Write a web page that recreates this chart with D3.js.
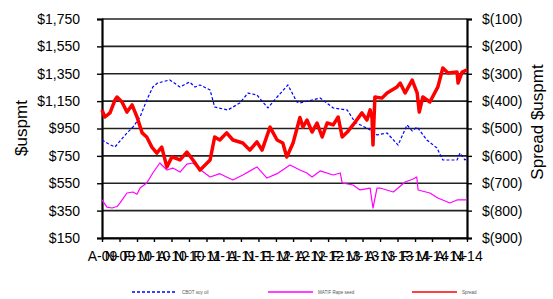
<!DOCTYPE html>
<html>
<head>
<meta charset="utf-8">
<script src="https://cdn.jsdelivr.net/npm/d3@7/dist/d3.min.js"></script>
<style>
  body { margin: 0; background: #fff; }
  svg { display: block; font-family: "Liberation Sans", Arial, sans-serif; }
</style>
</head>
<body>
<svg id="chart" width="553" height="299"></svg>
<script>
'use strict';

// ---- data ----
var soyDates = ['2009-08-01','2009-09-01','2009-10-08','2009-12-10','2010-01-11','2010-02-17','2010-03-24','2010-04-25',
  '2010-05-20','2010-07-23','2010-09-15','2010-11-04','2010-12-03','2010-12-29','2011-02-20','2011-03-16','2011-05-24',
  '2011-07-26','2011-09-07','2011-10-24','2011-12-21','2012-02-07','2012-04-04','2012-05-21','2012-06-06','2012-09-20',
  '2012-11-28','2013-02-10','2013-03-22','2013-06-10','2013-07-16','2013-09-07','2013-11-04','2013-12-21','2014-01-17',
  '2014-02-12','2014-04-04','2014-05-27','2014-06-27','2014-09-10','2014-09-25','2014-10-21','2014-11-01'];
var soyValues = [866,840,815,917,961,1034,1158,1253,
  1282,1305,1253,1290,1253,1268,1231,1107,1085,
  1136,1209,1195,1100,1180,1268,1144,1136,1173,
  1100,1085,997,939,903,917,829,976,932,
  961,866,808,720,720,771,720,735];

var rapeDates = ['2009-08-01','2009-08-27','2009-09-23','2009-10-19','2009-11-04','2009-12-10','2010-01-11','2010-02-01',
  '2010-02-17','2010-03-24','2010-04-25','2010-06-01','2010-07-08','2010-08-08','2010-09-15','2010-10-21','2010-11-22',
  '2010-12-29','2011-02-20','2011-04-12','2011-06-20','2011-08-11','2011-10-24','2011-12-16','2012-02-07','2012-04-15',
  '2012-06-06','2012-07-13','2012-08-09','2012-09-20','2012-11-28','2013-01-04','2013-01-14','2013-03-12','2013-04-18',
  '2013-06-10','2013-06-25','2013-07-16','2013-08-01','2013-10-10','2013-12-11','2014-01-22','2014-02-10','2014-02-17',
  '2014-04-20','2014-06-01','2014-08-03','2014-09-10','2014-11-01'];
var rapeValues = [428,376,369,380,406,479,486,470,
  515,552,625,698,647,661,632,690,698,
  650,596,620,574,610,669,588,620,683,
  647,625,596,640,610,625,552,537,501,
  515,369,515,515,486,559,581,596,501,
  479,442,406,428,428];

var spreadDates = ['2009-08-01','2009-08-16','2009-09-12','2009-10-08','2009-10-19','2009-11-14','2009-12-10','2010-01-06',
  '2010-02-01','2010-02-28','2010-03-24','2010-04-20','2010-05-16','2010-06-11','2010-07-08','2010-08-03','2010-09-15',
  '2010-10-21','2010-11-22','2010-12-29','2011-02-20','2011-03-16','2011-04-12','2011-05-18','2011-06-20','2011-08-11',
  '2011-09-17','2011-10-24','2011-11-20','2012-01-01','2012-02-07','2012-03-08','2012-03-29','2012-05-01','2012-06-06',
  '2012-06-22','2012-07-13','2012-08-09','2012-09-04','2012-10-01','2012-10-27','2012-11-28','2012-12-24','2013-01-14',
  '2013-02-10','2013-03-12','2013-04-28','2013-05-24','2013-06-10','2013-06-20','2013-06-25','2013-07-05','2013-08-11',
  '2013-09-07','2013-10-29','2013-11-15','2013-12-11','2014-01-17','2014-02-12','2014-02-23','2014-03-14','2014-04-20',
  '2014-06-01','2014-06-27','2014-07-24','2014-09-10','2014-09-15','2014-10-06','2014-11-01'];
var spreadValues = [-432,-458,-443,-396,-385,-403,-440,-414,
  -458,-516,-531,-568,-590,-568,-641,-604,-615,
  -586,-615,-652,-615,-531,-542,-516,-542,-553,
  -579,-549,-579,-495,-542,-553,-604,-553,-460,
  -495,-469,-513,-480,-531,-480,-487,-458,-531,
  -513,-487,-443,-469,-432,-462,-560,-385,-389,
  -370,-348,-334,-370,-323,-370,-440,-385,-403,
  -348,-279,-297,-294,-334,-294,-286];

var tickMonths = ['2009-08','2009-11','2010-02','2010-05','2010-08','2010-11','2011-02','2011-05','2011-08','2011-11',
  '2012-02','2012-05','2012-08','2012-11','2013-02','2013-05','2013-08','2013-11','2014-02','2014-05','2014-08','2014-11'];
var leftTicks = [150,350,550,750,950,1150,1350,1550,1750];
var rightTicks = [-900,-800,-700,-600,-500,-400,-300,-200,-100];
var seriesNames = ['CBOT soy oil', 'MATIF Rape seed', 'Spread'];

// ---- chart ----
var svg = d3.select('#chart');
var plotLeft = 102, plotRight = 467, plotTop = 19, plotBottom = 238;
var parseDay = d3.timeParse('%Y-%m-%d'),
    parseMonth = d3.timeParse('%Y-%m');

var xScale = d3.scaleTime()
    .domain([parseDay('2009-08-01'), parseDay('2014-11-01')])
    .range([plotLeft, plotRight]);
var yLeft = d3.scaleLinear().domain([150, 1750]).range([plotBottom, plotTop]);
var yRight = d3.scaleLinear().domain([-900, -100]).range([plotBottom, plotTop]);

// gridlines
svg.append('g')
    .selectAll('line')
    .data(leftTicks)
    .enter().append('line')
    .attr('x1', plotLeft).attr('x2', plotRight)
    .attr('y1', function(d) { return yLeft(d); })
    .attr('y2', function(d) { return yLeft(d); })
    .attr('stroke', '#222')
    .attr('stroke-width', 1.6);

var fmtMoney = d3.format(',');
var leftAxis = d3.axisLeft(yLeft)
    .tickValues(leftTicks)
    .tickFormat(function(d) { return '$' + fmtMoney(d); })
    .tickSize(5)
    .tickPadding(17);
var rightAxis = d3.axisRight(yRight)
    .tickValues(rightTicks)
    .tickFormat(function(d) { return '$(' + Math.abs(d) + ')'; })
    .tickSize(5)
    .tickPadding(10);
var monthLetter = d3.timeFormat('%b'), yy = d3.timeFormat('%y');
var bottomAxis = d3.axisBottom(xScale)
    .tickValues(tickMonths.map(function(m) { return parseMonth(m); }))
    .tickFormat(function(d) { return monthLetter(d).charAt(0) + '-' + yy(d); })
    .tickSizeInner(4)
    .tickSizeOuter(0)
    .tickPadding(6);

function styleAxis(g) {
    g.select('.domain').attr('stroke', '#000').attr('stroke-width', 2.2);
    g.selectAll('.tick line').attr('stroke', '#000').attr('stroke-width', 1.4);
    g.selectAll('.tick text')
        .attr('fill', '#000')
        .style('font-size', '14px')
        .style('font-family', '"Liberation Sans", Arial, sans-serif');
}

svg.append('g').attr('transform', 'translate(' + plotLeft + ',0)').call(leftAxis).call(styleAxis);
svg.append('g').attr('transform', 'translate(' + plotRight + ',0)').call(rightAxis).call(styleAxis);
var xg = svg.append('g').attr('transform', 'translate(0,' + plotBottom + ')').call(bottomAxis).call(styleAxis);
xg.selectAll('.tick text').attr('dy', '0.9em');

// series
function addLine(dates, values, yScale, color, width, dash) {
    var pts = dates.map(function(d, i) { return [parseDay(d), values[i]]; });
    var line = d3.line()
        .x(function(p) { return xScale(p[0]); })
        .y(function(p) { return yScale(p[1]); });
    svg.append('path')
        .datum(pts)
        .attr('d', line)
        .attr('fill', 'none')
        .attr('stroke', color)
        .attr('stroke-width', width)
        .attr('stroke-linejoin', 'round')
        .attr('stroke-dasharray', dash || null);
}
addLine(soyDates, soyValues, yLeft, '#0000ff', 1.2, '3,2');
addLine(rapeDates, rapeValues, yLeft, '#ff00ff', 1.2);
addLine(spreadDates, spreadValues, yRight, '#ff0000', 3.5);

// axis titles
svg.append('text')
    .attr('transform', 'translate(27,128) rotate(-90)')
    .attr('text-anchor', 'middle')
    .style('font-size', '17px')
    .text('$uspmt');
svg.append('text')
    .attr('transform', 'translate(543,122) rotate(-90)')
    .attr('text-anchor', 'middle')
    .style('font-size', '17px')
    .text('Spread $uspmt');

// legend
var legend = [
    {x: 132, color: '#0000ff', width: 1.5, dash: '3,2'},
    {x: 268, color: '#ff00ff', width: 1.5, dash: null},
    {x: 412, color: '#ff0000', width: 1.5, dash: null}
];
legend.forEach(function(l, i) {
    svg.append('line')
        .attr('x1', l.x).attr('x2', l.x + 45)
        .attr('y1', 292).attr('y2', 292)
        .attr('stroke', l.color)
        .attr('stroke-width', l.width)
        .attr('stroke-dasharray', l.dash);
    svg.append('text')
        .attr('x', l.x + 50).attr('y', 293.5)
        .attr('fill', '#555')
        .style('font-size', '4.5px')
        .text(seriesNames[i]);
});
</script>
</body>
</html>
